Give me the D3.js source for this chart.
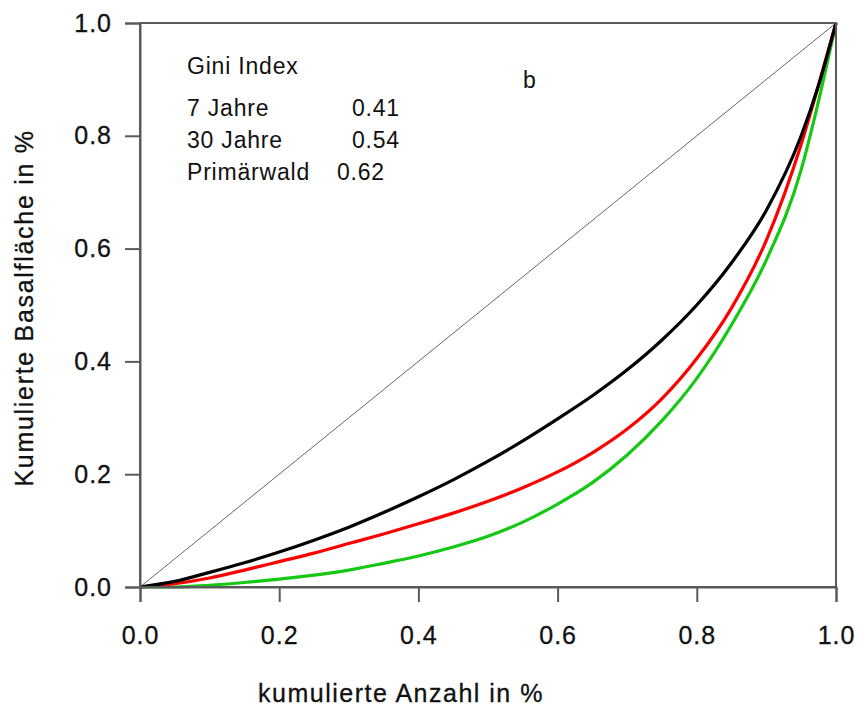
<!DOCTYPE html>
<html>
<head>
<meta charset="utf-8">
<script src="https://cdn.jsdelivr.net/npm/d3@7"></script>
<style>
  html, body { margin: 0; padding: 0; background: #fff; }
  svg text { font-family: "Liberation Sans", Arial, sans-serif; fill: #111; }
</style>
</head>
<body>
<svg id="chart" width="859" height="713"></svg>
<script>
// ---- data ----
const xShare = [0, 0.05, 0.1, 0.15, 0.2, 0.25, 0.3, 0.35, 0.4, 0.45, 0.5, 0.55, 0.6, 0.65, 0.7, 0.75, 0.8, 0.85, 0.9, 0.95, 0.975, 1];
const jahre7 = [0, 0.010, 0.026, 0.043, 0.062, 0.083, 0.106, 0.132, 0.160, 0.190, 0.223, 0.259, 0.298, 0.339, 0.385, 0.438, 0.500, 0.575, 0.668, 0.800, 0.890, 1];
const jahre30 = [0, 0.006, 0.016, 0.030, 0.045, 0.060, 0.077, 0.094, 0.112, 0.131, 0.152, 0.176, 0.204, 0.238, 0.280, 0.334, 0.405, 0.495, 0.615, 0.785, 0.890, 1];
const primaerwald = [0, 0.000, 0.003, 0.008, 0.014, 0.021, 0.030, 0.042, 0.055, 0.071, 0.090, 0.115, 0.147, 0.185, 0.234, 0.295, 0.370, 0.465, 0.580, 0.740, 0.862, 1];
const seriesNames = ["7 Jahre", "30 Jahre", "Primärwald"];
const giniValues = ["0.41", "0.54", "0.62"];
const tickValues = [0, 0.2, 0.4, 0.6, 0.8, 1.0];
const xTitle = "kumulierte Anzahl in %";
const yTitle = "Kumulierte Basalfläche in %";
const legendTitle = "Gini Index";
const panelLabel = "b";

// ---- layout ----
const svg = d3.select("#chart");
const x = d3.scaleLinear().domain([0, 1]).range([140, 836]);
const y = d3.scaleLinear().domain([0, 1]).range([587, 23]);
const axisColor = "#5a5a5a";
const fontSize = 25;

// diagonal
svg.append("line")
  .attr("x1", x(0)).attr("y1", y(0)).attr("x2", x(1)).attr("y2", y(1))
  .attr("stroke", "#666").attr("stroke-width", 1);

// curves
const line = d3.line().x((d, i) => x(xShare[i])).y(d => y(d)).curve(d3.curveMonotoneX);
const curves = [
  { vals: primaerwald, color: "#14c814" },
  { vals: jahre30, color: "#ff0000" },
  { vals: jahre7, color: "#000000" }
];
curves.forEach(c => {
  svg.append("path").datum(c.vals)
    .attr("d", line)
    .attr("fill", "none")
    .attr("stroke", c.color)
    .attr("stroke-width", 3.2)
    .attr("stroke-linejoin", "round");
});

// frame
svg.append("rect")
  .attr("x", x(0)).attr("y", y(1))
  .attr("width", x(1) - x(0)).attr("height", y(0) - y(1))
  .attr("fill", "none").attr("stroke", axisColor).attr("stroke-width", 2);

// axes
const fmt = d3.format(".1f");
const xAxis = svg.append("g").attr("transform", `translate(0,${y(0)})`)
  .call(d3.axisBottom(x).tickValues(tickValues).tickFormat(fmt).tickSize(15).tickPadding(24));
const yAxis = svg.append("g").attr("transform", `translate(${x(0)},0)`)
  .call(d3.axisLeft(y).tickValues(tickValues).tickFormat(fmt).tickSize(15).tickPadding(13));
[xAxis, yAxis].forEach(g => {
  g.select(".domain").attr("stroke", axisColor).attr("stroke-width", 2);
  g.selectAll(".tick line").attr("stroke", axisColor).attr("stroke-width", 2);
  g.selectAll(".tick text")
    .style("font-family", '"Liberation Sans", Arial, sans-serif')
    .style("font-size", fontSize + "px")
    .style("letter-spacing", "1px")
    .attr("fill", "#111")
    .attr("stroke", "#111").attr("stroke-width", 0.3);
});

// axis titles
svg.append("text")
  .attr("x", 401).attr("y", 702)
  .attr("text-anchor", "middle")
  .style("font-size", fontSize + "px").style("letter-spacing", "1.5px")
  .attr("stroke", "#111").attr("stroke-width", 0.3)
  .text(xTitle);
svg.append("text")
  .attr("transform", "translate(33,308) rotate(-90)")
  .attr("text-anchor", "middle")
  .style("font-size", fontSize + "px").style("letter-spacing", "1.7px")
  .attr("stroke", "#111").attr("stroke-width", 0.3)
  .text(yTitle);

// legend text
const legendSize = 23;
svg.append("text").attr("x", 187).attr("y", 74)
  .style("font-size", legendSize + "px").style("letter-spacing", "0.8px").text(legendTitle);
const legendY = [116, 148, 180];
const valueX = [352, 352, 337];
seriesNames.forEach((n, i) => {
  svg.append("text").attr("x", 187).attr("y", legendY[i])
    .style("font-size", legendSize + "px").style("letter-spacing", "0.8px").text(n);
  svg.append("text").attr("x", valueX[i]).attr("y", legendY[i])
    .style("font-size", legendSize + "px").style("letter-spacing", "0.8px").text(giniValues[i]);
});
svg.append("text").attr("x", 523).attr("y", 88)
  .style("font-size", legendSize + "px").text(panelLabel);
</script>
</body>
</html>
